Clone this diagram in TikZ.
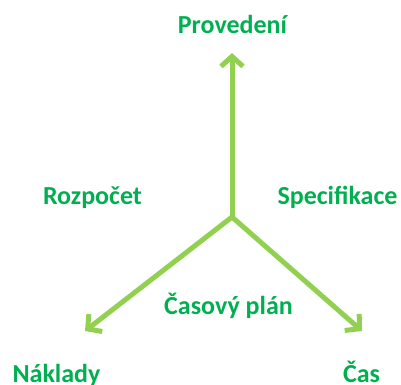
\documentclass[tikz,border=0pt]{standalone}
\usepackage{fontspec}
\setmainfont{Carlito}
\usepackage{xcolor}
\usepackage{tikz}
\usetikzlibrary{arrows.meta}
\definecolor{labelgreen}{HTML}{00B050}
\definecolor{linegreen}{HTML}{92D050}
\tikzstyle{label} = [anchor=base, inner sep=0pt, text=labelgreen, font=\fontsize{26}{31}\selectfont\bfseries]
\tikzstyle{arrow} = [line width=5pt, draw=linegreen, -{Straight Barb[length=10pt,width=22pt]}]

\begin{document}
\begin{tikzpicture}[x=1pt, y=-1pt]
    \useasboundingbox (0,0) rectangle (401,384);
    % Coordinates
    \coordinate (hub) at (232,217);
    \coordinate (top) at (232,53);
    \coordinate (left) at (85,331);
    \coordinate (right) at (362,331);
    % Labels
    \node (provedeni) [label] at (232.5,33) {Provedení};
    \node (rozpocet) [label] at (92.5,204) {Rozpočet};
    \node (specifikace) [label] at (337.5,204) {Specifikace};
    \node (casovyplan) [label] at (228.5,314) {Časový plán};
    \node (naklady) [label] at (56.5,382) {Náklady};
    \node (cas) [label] at (361.5,382) {Čas};
    % Arrows
    \draw [arrow] (hub) -- (top);
    \draw [arrow] (hub) -- (left);
    \draw [arrow] (hub) -- (right);
\end{tikzpicture}
\end{document}
